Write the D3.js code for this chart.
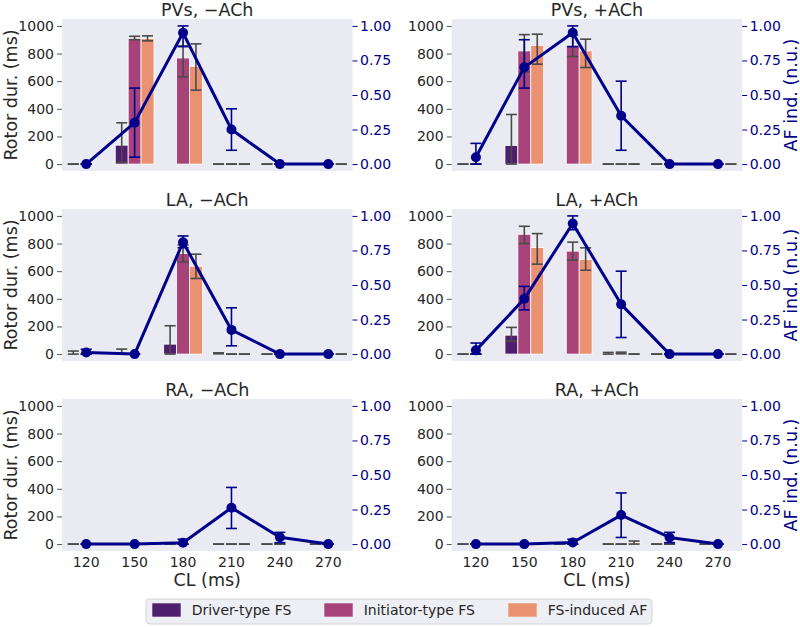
<!DOCTYPE html>
<html><head><meta charset="utf-8">
<script src="https://cdn.jsdelivr.net/npm/d3@7"></script>
<style>body{margin:0;background:#fff} svg{display:block;font-family:"DejaVu Sans",sans-serif}</style>
</head><body><svg id="c" width="800" height="627"></svg>
<script>
// ---------- data ----------
const categories = [120, 150, 180, 210, 240, 270];
const panelTitles = ["PVs, \u2212ACh", "PVs, +ACh", "LA, \u2212ACh", "LA, +ACh", "RA, \u2212ACh", "RA, +ACh"];
const seriesNames = ["Driver-type FS", "Initiator-type FS", "FS-induced AF"];
const yTicks = [0, 200, 400, 600, 800, 1000];
const afTicks = [0, 0.25, 0.5, 0.75, 1.0];

// Rotor duration (ms), one row per panel, one value per CL; null = no data
const driverMean = [
  [0, 137, null, 0, 0, 0],
  [0, 135, null, 0, 0, 0],
  [5, 8, 72, 5, 0, 0],
  [0, 137, null, 6, 0, 0],
  [0, 0, 0, 0, 0, 0],
  [0, 0, 0, 0, 0, 0]
];
const driverCI = [
  [[0,0],[14,299],null,[0,0],[0,0],[0,0]],
  [[0,0],[0,359],null,[0,0],[0,0],[0,0]],
  [[0,22],[0,36],[0,205],[2,9],[0,0],[0,0]],
  [[0,0],[94,193],null,[0,12],[0,0],[0,0]],
  [[0,0],[0,0],[0,0],[0,0],[0,0],[0,0]],
  [[0,0],[0,0],[0,0],[0,0],[0,0],[0,0]]
];
const initiatorMean = [
  [0, 910, 768, 0, 0, 0],
  [0, 819, 860, 0, 0, 0],
  [0, 0, 728, 0, 0, 0],
  [0, 867, 745, 8, 0, 0],
  [0, 0, 0, 0, 0, 0],
  [0, 0, 0, 0, 0, 0]
];
const initiatorCI = [
  [[0,0],[900,925],[631,855],[0,0],[0,0],[0,0]],
  [[0,0],[667,937],[778,935],[0,0],[0,0],[0,0]],
  [[0,0],[0,0],[667,790],[0,0],[0,0],[0,0]],
  [[0,0],[800,925],[680,810],[2,14],[0,0],[0,0]],
  [[0,0],[0,0],[0,0],[0,0],[0,0],[0,0]],
  [[0,0],[0,0],[0,0],[0,0],[0,0],[0,0]]
];
const inducedMean = [
  [null, 908, 708, 0, 0, 0],
  [null, 860, 819, 0, 0, 0],
  [null, null, 636, 0, 0, 0],
  [null, 771, 684, 0, 0, 0],
  [null, null, null, 0, null, null],
  [null, null, null, 10, null, null]
];
const inducedCI = [
  [null,[892,928],[535,870],[0,0],[0,0],[0,0]],
  [null,[723,940],[699,904],[0,0],[0,0],[0,0]],
  [null,null,[547,723],[0,0],[0,0],[0,0]],
  [null,[651,872],[607,769],[0,0],[0,0],[0,0]],
  [null,null,null,[0,0],null,null],
  [null,null,null,[0,22],null,null]
];
// AF inducibility (n.u.)
const afMean = [
  [0, 0.30, 0.95, 0.25, 0, 0],
  [0.05, 0.70, 0.95, 0.35, 0, 0],
  [0.012, 0, 0.81, 0.175, 0, 0],
  [0.027, 0.40, 0.945, 0.36, 0, 0],
  [0, 0, 0.01, 0.263, 0.05, 0],
  [0, 0, 0.012, 0.21, 0.048, 0]
];
const afCI = [
  [[0,0],[0.05,0.55],[0.85,1.0],[0.10,0.40],[0,0],[0,0]],
  [[0,0.15],[0.55,0.90],[0.85,1.0],[0.10,0.60],[0,0],[0,0]],
  [[0,0.035],[0,0],[0.77,0.855],[0.06,0.335],[0,0],[0,0]],
  [[0,0.08],[0.32,0.49],[0.90,1.0],[0.12,0.60],[0,0],[0,0]],
  [[0,0],[0,0],[0,0.035],[0.113,0.41],[0.01,0.085],[0,0]],
  [[0,0],[0,0],[0,0.035],[0.048,0.37],[0.01,0.085],[0,0]]
];

// ---------- style / layout ----------
const seriesColors = ["#4f1e6e", "#a8437a", "#ea9171"];
const lineColor = "#00008b";
const errGray = "#4a4a4a";
const textColor = "#262626";
const bgColor = "#eaeaf2";
const colX = [62, 451.7];
const colW = 290.5;
const rowY = [19, 209, 399];
const rowH = 152;
const capW = 11;
const tickFont = "14px";
const labelFont = "17.5px";

const svg = d3.select("#c");

const meansAll = [driverMean, initiatorMean, inducedMean];
const ciAll = [driverCI, initiatorCI, inducedCI];

for (let p = 0; p < 6; p++) {
  const col = p % 2, row = Math.floor(p / 2);
  const x0 = colX[col], y0 = rowY[row];
  const g = svg.append("g");
  const x = d3.scaleBand().domain(categories).range([x0, x0 + colW]).padding(0);
  const bw = x.bandwidth();
  const cx = c => x(c) + bw / 2;
  const y = d3.scaleLinear().domain([-50, 1050]).range([y0 + rowH, y0]);
  const y2 = d3.scaleLinear().domain([-0.05, 1.05]).range([y0 + rowH, y0]);
  const barW = 0.8 * bw / 3;

  g.append("rect").attr("x", x0).attr("y", y0).attr("width", colW).attr("height", rowH).attr("fill", bgColor);

  // bars
  for (let s = 0; s < 3; s++) {
    const m = meansAll[s][p];
    categories.forEach((c, i) => {
      if (m[i] === null) return;
      const bx = cx(c) - 0.4 * bw + s * barW;
      const top = y(Math.max(m[i], 0)), base = y(0);
      if (m[i] > 0) {
        g.append("rect").attr("x", bx).attr("y", top).attr("width", barW)
          .attr("height", base - top).attr("fill", seriesColors[s])
          .attr("stroke", "#ffffff").attr("stroke-width", 0.8);
      }
    });
  }
  // bar error bars
  for (let s = 0; s < 3; s++) {
    const ci = ciAll[s][p];
    categories.forEach((c, i) => {
      if (!ci[i]) return;
      const ex = cx(c) - 0.4 * bw + (s + 0.5) * barW;
      const lo = y(ci[i][0]), hi = y(ci[i][1]);
      g.append("line").attr("x1", ex).attr("x2", ex).attr("y1", lo).attr("y2", hi)
        .attr("stroke", errGray).attr("stroke-width", 1.6);
      [lo, hi].forEach(v => g.append("line").attr("x1", ex - capW / 2).attr("x2", ex + capW / 2)
        .attr("y1", v).attr("y2", v).attr("stroke", errGray).attr("stroke-width", 1.6));
    });
  }

  // AF inducibility line
  const pts = categories.map((c, i) => [cx(c), y2(afMean[p][i])]);
  categories.forEach((c, i) => {
    const ci = afCI[p][i];
    if (!ci) return;
    const ex = cx(c), lo = y2(ci[0]), hi = y2(ci[1]);
    g.append("line").attr("x1", ex).attr("x2", ex).attr("y1", lo).attr("y2", hi)
      .attr("stroke", lineColor).attr("stroke-width", 1.6);
    [lo, hi].forEach(v => g.append("line").attr("x1", ex - capW / 2).attr("x2", ex + capW / 2)
      .attr("y1", v).attr("y2", v).attr("stroke", lineColor).attr("stroke-width", 1.6));
  });
  g.append("path").attr("d", d3.line()(pts)).attr("fill", "none")
    .attr("stroke", lineColor).attr("stroke-width", 3).attr("stroke-linejoin", "round");
  g.selectAll(null).data(pts).enter().append("circle")
    .attr("cx", d => d[0]).attr("cy", d => d[1]).attr("r", 5).attr("fill", lineColor);

  // left axis
  const ax = g.append("g").attr("transform", `translate(${x0},0)`)
    .call(d3.axisLeft(y).tickValues(yTicks).tickFormat(d3.format("d")).tickSize(5).tickPadding(3));
  ax.select(".domain").remove();
  ax.selectAll(".tick line").attr("stroke", "#555");
  ax.selectAll(".tick text").attr("fill", textColor).style("font-size", tickFont).style("font-family", "DejaVu Sans");

  // right axis
  const ax2 = g.append("g").attr("transform", `translate(${x0 + colW},0)`)
    .call(d3.axisRight(y2).tickValues(afTicks).tickFormat(d3.format(".2f")).tickSize(5).tickPadding(2.5));
  ax2.select(".domain").remove();
  ax2.selectAll(".tick line").attr("stroke", lineColor);
  ax2.selectAll(".tick text").attr("fill", lineColor).style("font-size", tickFont).style("font-family", "DejaVu Sans");

  // bottom axis (bottom row only)
  if (row === 2) {
    const ax3 = g.append("g").attr("transform", `translate(0,${y0 + rowH})`)
      .call(d3.axisBottom(x).tickSize(0).tickPadding(6.5));
    ax3.select(".domain").remove();
    ax3.selectAll(".tick text").attr("fill", textColor).style("font-size", tickFont).style("font-family", "DejaVu Sans");
    g.append("text").attr("x", x0 + colW / 2).attr("y", 585.5).attr("text-anchor", "middle")
      .attr("fill", textColor).style("font-size", labelFont).text("CL (ms)");
  }

  // title
  g.append("text").attr("x", x0 + colW / 2).attr("y", y0 - 3).attr("text-anchor", "middle")
    .attr("fill", textColor).style("font-size", labelFont).text(panelTitles[p]);

  // axis labels
  const cy = y0 + rowH / 2;
  if (col === 0) {
    g.append("text").attr("transform", `translate(16.5,${cy}) rotate(-90)`).attr("text-anchor", "middle")
      .attr("fill", textColor).style("font-size", labelFont).text("Rotor dur. (ms)");
  } else {
    g.append("text").attr("transform", `translate(796.5,${cy}) rotate(-90)`).attr("text-anchor", "middle")
      .attr("fill", lineColor).style("font-size", labelFont).text("AF ind. (n.u.)");
  }
}

// legend
const lg = svg.append("g");
lg.append("rect").attr("x", 146).attr("y", 599).attr("width", 506).attr("height", 25).attr("rx", 3.5)
  .attr("fill", "#eeeef5").attr("stroke", "#d6d6d6").attr("stroke-width", 1);
const legX = [152.3, 324.3, 508.3];
seriesNames.forEach((n, i) => {
  lg.append("rect").attr("x", legX[i]).attr("y", 603.3).attr("width", 28.4).attr("height", 13.4).attr("fill", seriesColors[i]);
  lg.append("text").attr("x", legX[i] + 39.4).attr("y", 615.3).attr("fill", textColor)
    .style("font-size", "14px").text(n);
});
</script>
</body></html>
